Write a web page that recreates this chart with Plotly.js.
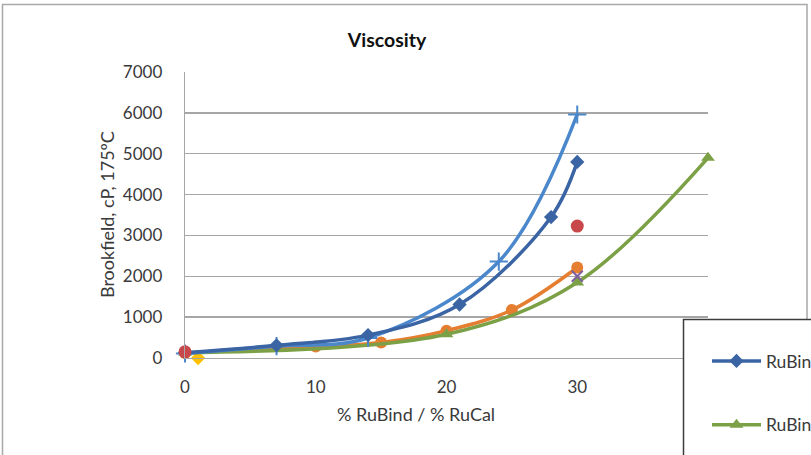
<!DOCTYPE html>
<html>
<head>
<meta charset="utf-8">
<script src="https://cdn.plot.ly/plotly-3.0.1.min.js"></script>
<style>
  html, body { margin: 0; padding: 0; background: #fff; overflow: hidden; }
  #chart { width: 811px; height: 455px; }
</style>
</head>
<body>
<div id="chart"></div>
<script>
// Brookfield viscosity at 175 ºC versus additive content
const rubindX = [0, 7, 14, 21, 28, 30];
const rubindY = [130, 310, 560, 1310, 3450, 4800];

const rubindBX = [0, 7, 14, 24, 30];
const rubindBY = [110, 290, 490, 2360, 5960];

const rucalX = [0, 10, 15, 20, 25, 30];
const rucalY = [120, 280, 380, 670, 1175, 2215];

const mixX = [0, 20, 30, 40];
const mixY = [130, 580, 1850, 4900];

const crossX = [30];
const crossY = [2000];

const redX = [0, 30];
const redY = [150, 3230];

const goldX = [1];
const goldY = [0];

const xTicks = [0, 10, 20, 30, 40];

// plot area in pixels: left 185, right 708, top 72, bottom 358
const L = 185, R = 708, T = 72, B = 358;
const px = v => (v - L) / (R - L);
const py = v => (B - v) / (B - T);

const FONT = "Lato, 'Open Sans', sans-serif";
const TXT = '#3a3a3a';

const traces = [
  { name: 'RuCal', x: goldX, y: goldY, mode: 'markers',
    marker: { symbol: 'diamond', size: 11, color: '#FFC000' }, legendrank: 7, legendgroup: 'g7' },
  { name: 'RuBind + RuCal B', x: rucalX, y: rucalY, mode: 'lines+markers',
    line: { color: '#E57E31', width: 3.5, shape: 'spline', smoothing: 1 },
    marker: { symbol: 'circle', size: 12, color: '#E57E31' }, legendrank: 3, legendgroup: 'g3' },
  { name: 'RuBind + RuCal', x: mixX, y: mixY, mode: 'lines+markers',
    line: { color: '#7BA045', width: 3.5, shape: 'spline', smoothing: 1 },
    marker: { symbol: 'triangle-up', size: 12, color: '#7BA045' }, legendrank: 2, legendgroup: 'g2' },
  { name: 'RuBind C', x: crossX, y: crossY, mode: 'markers',
    marker: { symbol: 'x-thin', size: 11, line: { color: '#7D5F9E', width: 2 }, color: '#7D5F9E' }, legendrank: 5, legendgroup: 'g5' },
  { name: 'RuBind B', x: rubindBX, y: rubindBY, mode: 'lines+markers',
    line: { color: '#4A87CB', width: 3.5, shape: 'spline', smoothing: 1 },
    marker: { symbol: 'cross-thin', size: 13, line: { color: '#4A87CB', width: 2 }, color: '#4A87CB' }, legendrank: 4, legendgroup: 'g4' },
  { name: 'RuBind', x: rubindX, y: rubindY, mode: 'lines+markers',
    line: { color: '#3A64A4', width: 3.5, shape: 'spline', smoothing: 1 },
    marker: { symbol: 'diamond', size: 11, color: '#3A64A4' }, legendrank: 1, legendgroup: 'g1' },
  { name: 'RuBind D', x: redX, y: redY, mode: 'markers',
    marker: { symbol: 'circle', size: 13, color: '#C8474A' }, legendrank: 6, legendgroup: 'g6' }
].map(t => Object.assign(t, { type: 'scatter', cliponaxis: false }));

const layout = {
  width: 811, height: 455,
  margin: { l: L, r: 811 - R, t: T, b: 455 - B, pad: 0, autoexpand: false },
  paper_bgcolor: '#ffffff', plot_bgcolor: '#ffffff',
  font: { family: FONT, size: 16, color: TXT },
  title: {
    text: '<b>Viscosity</b>', font: { family: FONT, size: 19.5, color: '#111' },
    xref: 'container', yref: 'container', x: 387 / 811, y: 1 - 40 / 455,
    xanchor: 'center', yanchor: 'middle'
  },
  xaxis: {
    range: [0, 40], tickvals: xTicks, ticktext: xTicks.map(String),
    showgrid: false, zeroline: false, showline: true, linecolor: '#a6a6a6', linewidth: 1.3,
    ticks: '', ticklabelstandoff: 13, tickfont: { size: 17, color: TXT }, fixedrange: true,
    automargin: false
  },
  yaxis: {
    range: [0, 7000], dtick: 1000, tick0: 0,
    showgrid: true, gridcolor: '#a6a6a6', gridwidth: 1.3,
    zeroline: false, showline: true, linecolor: '#a6a6a6', linewidth: 1.3,
    ticks: '', ticklabelstandoff: 18, tickfont: { size: 17, color: TXT }, fixedrange: true,
    automargin: false
  },
  showlegend: true,
  legend: {
    x: px(707), y: py(343), xanchor: 'left', yanchor: 'top',
    bgcolor: 'rgba(0,0,0,0)', borderwidth: 0,
    font: { family: FONT, size: 17.5, color: TXT },
    traceorder: 'grouped', tracegroupgap: 38, itemwidth: 49
  },
  shapes: [
    // chart frame
    { type: 'rect', xref: 'paper', yref: 'paper', layer: 'below',
      x0: px(2.5), x1: px(807), y0: py(480), y1: py(4.5),
      line: { color: '#a8a8a8', width: 1.5 }, fillcolor: 'rgba(0,0,0,0)' },
    // legend box
    { type: 'rect', xref: 'paper', yref: 'paper', layer: 'above',
      x0: px(683.5), x1: px(840), y0: py(490), y1: py(319.5),
      line: { color: '#3c3c3c', width: 1.5 }, fillcolor: '#ffffff' }
  ],
  annotations: [
    { text: 'Brookfield, cP, 175ºC', textangle: -90, showarrow: false,
      xref: 'paper', yref: 'paper', x: px(107), y: py(215), xanchor: 'center', yanchor: 'middle',
      font: { family: FONT, size: 18, color: TXT } },
    { text: '% RuBind / % RuCal', showarrow: false,
      xref: 'paper', yref: 'paper', x: px(416), y: py(414), xanchor: 'center', yanchor: 'middle',
      font: { family: FONT, size: 18, color: TXT } }
  ]
};

Plotly.newPlot('chart', traces, layout, { displayModeBar: false, staticPlot: true });
</script>
</body>
</html>
